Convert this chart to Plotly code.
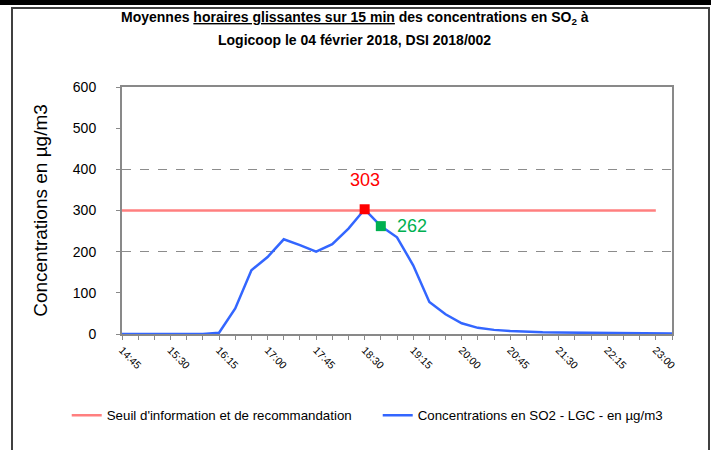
import plotly.graph_objects as go

times = ["14:45", "15:00", "15:15", "15:30", "15:45", "16:00", "16:15", "16:30", "16:45",
         "17:00", "17:15", "17:30", "17:45", "18:00", "18:15", "18:30", "18:45", "19:00",
         "19:15", "19:30", "19:45", "20:00", "20:15", "20:30", "20:45", "21:00", "21:15",
         "21:30", "21:45", "22:00", "22:15", "22:30", "22:45", "23:00", "23:15"]
concentrations = [0, 0, 0, 0, 0, 0, 3, 62, 155, 187, 230, 216, 200, 218, 256, 303, 262, 235,
                  167, 78, 48, 26, 15, 10, 7, 5, 4, 3.5, 3, 2.5, 2, 1.5, 1, 1, 1]
threshold = [300, 300, 300, 300, 300, 300, 300, 300, 300, 300, 300, 300, 300, 300, 300, 300,
             300, 300, 300, 300, 300, 300, 300, 300, 300, 300, 300, 300, 300, 300, 300, 300,
             300, 300]
tick_labels = ["14:45", "15:30", "16:15", "17:00", "17:45", "18:30", "19:15", "20:00",
               "20:45", "21:30", "22:15", "23:00"]
peak_idx = 15
second_idx = 16

day = "2018-02-04 "
x = [day + t for t in times]
x_thr = x[:len(threshold)]

FONT = "Arial, Liberation Sans, sans-serif"

fig = go.Figure()
fig.add_trace(go.Scatter(x=x_thr, y=threshold, mode="lines",
                         line=dict(color="#FF7F7F", width=2.5),
                         name="Seuil d'information et de recommandation"))
fig.add_trace(go.Scatter(x=x, y=concentrations, mode="lines",
                         line=dict(color="#3366FF", width=2.5),
                         name="Concentrations en SO2 - LGC - en µg/m3"))
fig.add_trace(go.Scatter(x=[x[peak_idx]], y=[concentrations[peak_idx]], mode="markers",
                         marker=dict(symbol="square", size=10, color="#FF0000"),
                         showlegend=False))
fig.add_trace(go.Scatter(x=[x[second_idx]], y=[concentrations[second_idx]], mode="markers",
                         marker=dict(symbol="square", size=10, color="#00B050"),
                         showlegend=False))

# dashed gridlines overlay axis
fig.add_trace(go.Scatter(x=[x[0]], y=[0], yaxis="y2", mode="markers",
                         marker=dict(opacity=0), showlegend=False, hoverinfo="skip"))

fig.update_layout(
    width=711, height=450,
    margin=dict(l=122, r=39, t=87, b=116),
    paper_bgcolor="white", plot_bgcolor="white",
    font=dict(family=FONT, color="black"),
    xaxis=dict(
        type="date", range=[x[0], x[-1]],
        tickmode="array", tickvals=[day + t for t in tick_labels], ticktext=tick_labels,
        tickangle=45, tickfont=dict(size=10.5, color="black"),
        ticks="outside", ticklen=4, tickcolor="#898989",
        minor=dict(tickmode="array", tickvals=x, ticks="outside", ticklen=4, tickcolor="#898989"),
        showline=True, linecolor="#898989", linewidth=2, mirror=True,
        showgrid=False, zeroline=False,
    ),
    yaxis=dict(
        range=[0, 600], dtick=100, tick0=0,
        ticks="outside", ticklen=4, tickcolor="#898989",
        tickfont=dict(size=14, color="black"), ticklabelstandoff=17,
        showline=True, linecolor="#898989", linewidth=2, mirror=True,
        showgrid=False, zeroline=False,
        title=dict(text="Concentrations en µg/m3", font=dict(size=19, color="black"), standoff=20),
    ),
    yaxis2=dict(
        overlaying="y", range=[0, 600], dtick=200, tick0=0, showticklabels=False,
        showgrid=True, gridcolor="#8C8C8C", griddash="dash", gridwidth=1,
        zeroline=False, ticks="",
    ),
    legend=dict(orientation="h", x=-0.1005, y=-0.33, xanchor="left", yanchor="middle",
                font=dict(size=13.3, color="black"), entrywidth=266, entrywidthmode="pixels",
                itemwidth=30, bgcolor="rgba(0,0,0,0)"),
    showlegend=True,
)

fig.add_annotation(x=x[peak_idx], y=concentrations[peak_idx], text=str(concentrations[peak_idx]),
                   showarrow=False, yshift=29, font=dict(size=18, color="#FF0000"))
fig.add_annotation(x=x[second_idx], y=concentrations[second_idx], text=str(concentrations[second_idx]),
                   showarrow=False, xshift=14, xanchor="left", font=dict(size=18, color="#00B050"))

# title lines
fig.add_annotation(xref="paper", yref="paper", x=0.4236, y=(334 - 18) / 247,
                   text="<b>Moyennes <u>horaires glissantes sur 15 min</u> des concentrations en SO<sub>2</sub> à</b>",
                   showarrow=False, xanchor="center", yanchor="middle", font=dict(size=14, color="black"))
fig.add_annotation(xref="paper", yref="paper", x=0.4236, y=(334 - 40) / 247,
                   text="<b>Logicoop le 04 février 2018, DSI 2018/002</b>",
                   showarrow=False, xanchor="center", yanchor="middle", font=dict(size=14, color="black"))

# outer chart frame and top bar
fig.add_shape(type="rect", xref="paper", yref="paper",
              x0=(12 - 122) / 550, x1=(709 - 122) / 550, y0=(334 - 470) / 247, y1=(334 - 8) / 247,
              line=dict(color="#404040", width=2), fillcolor="rgba(0,0,0,0)", layer="below")
fig.add_shape(type="rect", xref="paper", yref="paper",
              x0=(-5 - 122) / 550, x1=(716 - 122) / 550, y0=(334 - 5) / 247, y1=(334 + 5) / 247,
              line=dict(width=0), fillcolor="black", layer="above")

fig.write_html("out.html", config={"displayModeBar": False},
               post_script="document.body.style.margin='0px';")
